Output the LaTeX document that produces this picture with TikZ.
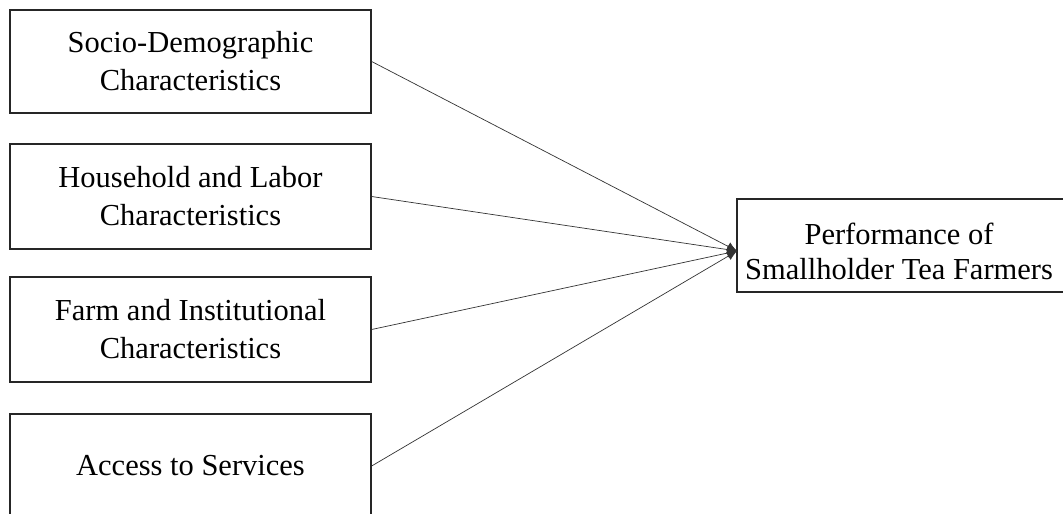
\documentclass[tikz,border=0pt]{standalone}
\usepackage{fontspec}
\setmainfont{Liberation Serif}
\usetikzlibrary{arrows.meta}
\begin{document}
\begin{tikzpicture}[x=1pt,y=-1pt,
  box/.style={draw=black!85, line width=1.3pt, rectangle, inner sep=0pt, align=center,
    font=\fontsize{30.5}{38}\selectfont},
  link/.style={draw=black!80, line width=0.7pt, -{Latex[length=10pt,width=9pt]}}]
\useasboundingbox (0,0) rectangle (1063,514);
\fill[white] (0,0) rectangle (1063,514);
\node[box, minimum width=361pt, minimum height=103pt] (b1) at (190.5,61.5) {Socio-Demographic\\Characteristics};
\node[box, minimum width=361pt, minimum height=105pt] (b2) at (190.5,196.5) {Household and Labor\\Characteristics};
\node[box, minimum width=361pt, minimum height=105pt] (b3) at (190.5,329.5) {Farm and Institutional\\Characteristics};
\node[box, minimum width=361pt, minimum height=104pt] (b4) at (190.5,466) {Access to Services};
\node[box, minimum width=450pt, minimum height=93pt] (p) at (962,245.5) {};
\node[align=center, font=\fontsize{30.5}{35}\selectfont] (pt) at (899,251) {Performance of\\Smallholder Tea Farmers};
\coordinate (t) at (737,251);
\draw[link] (b1.east) -- (t);
\draw[link] (b2.east) -- (t);
\draw[link] (b3.east) -- (t);
\draw[link] (b4.east) -- (t);
\end{tikzpicture}
\end{document}
